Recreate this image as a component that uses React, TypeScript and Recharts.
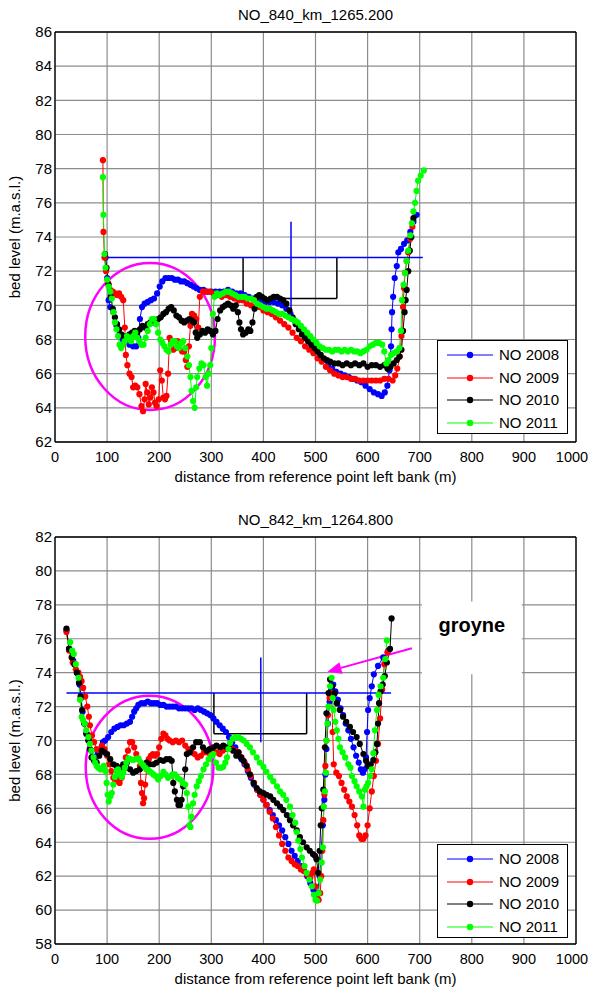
import React from 'react';
import {
  ComposedChart,
  Line,
  XAxis,
  YAxis,
  CartesianGrid,
  ReferenceLine,
  ReferenceArea,
  Legend,
} from 'recharts';

const FONT = '"Liberation Sans", Arial, sans-serif';

const xTicks = [0, 100, 200, 300, 400, 500, 600, 700, 800, 900, 1000];
const yTicksTop = [62, 64, 66, 68, 70, 72, 74, 76, 78, 80, 82, 84, 86];
const yTicksBottom = [58, 60, 62, 64, 66, 68, 70, 72, 74, 76, 78, 80, 82];

const seriesNames = ['NO 2008', 'NO 2009', 'NO 2010', 'NO 2011'];
const seriesColors = ['#0000ff', '#ff0000', '#000000', '#00ff00'];

const titleTop = 'NO_840_km_1265.200';
const titleBottom = 'NO_842_km_1264.800';
const xLabel = 'distance from reference point left bank (m)';
const yLabel = 'bed level (m.a.s.l.)';

type Pt = [number, number];

// ---- NO_840 (top panel) ----
const top2008: Pt[] = [
  [97, 72.8], [100, 71.6], [103, 70.3], [106, 69.9], [112, 69.6], [118, 68.8], [124, 68.3], [130, 68.0],
  [137, 67.9], [143, 67.7], [150, 67.6], [156, 67.6], [160, 68.1], [163, 69.2], [167, 69.9], [172, 70.1],
  [178, 70.2], [184, 70.3], [190, 70.4], [196, 70.7], [201, 71.1], [206, 71.4], [212, 71.6], [218, 71.6],
  [224, 71.6], [230, 71.5], [236, 71.5], [242, 71.4], [248, 71.4], [254, 71.3], [260, 71.2], [266, 71.1],
  [272, 71.0], [278, 70.9], [285, 70.9], [292, 70.8], [300, 70.8], [308, 70.8], [316, 70.8], [324, 70.8],
  [332, 70.9], [340, 70.8], [348, 70.7], [356, 70.7], [364, 70.6], [372, 70.5], [380, 70.4], [388, 70.4],
  [396, 70.3], [404, 70.2], [412, 70.2], [420, 70.2], [428, 70.1], [436, 70.0], [444, 69.8], [452, 69.5],
  [460, 69.1], [468, 68.8], [476, 68.4], [484, 68.0], [492, 67.7], [500, 67.4], [508, 67.1], [516, 66.8],
  [524, 66.5], [532, 66.3], [540, 66.1], [548, 66.0], [556, 65.9], [564, 65.8], [572, 65.7], [580, 65.6],
  [588, 65.5], [596, 65.3], [604, 65.1], [612, 64.9], [620, 64.8], [627, 64.7], [633, 64.9], [638, 65.3],
  [642, 66.2], [645, 67.6], [646, 68.6], [647, 69.6], [649, 70.5], [652, 71.6], [656, 72.3], [659, 73.1],
  [664, 73.3], [670, 73.6], [676, 73.8], [682, 74.3], [688, 74.9], [694, 75.3],
];

const top2009: Pt[] = [
  [92, 78.5], [93, 74.3], [95, 72.8], [98, 72.0], [102, 71.3], [106, 70.9], [111, 70.8], [115, 70.7],
  [119, 70.6], [123, 70.7], [127, 70.5], [131, 70.3], [134, 68.7], [136, 67.1], [139, 66.5], [143, 66.0],
  [147, 65.8], [150, 65.2], [154, 65.3], [158, 65.2], [162, 64.8], [166, 64.1], [169, 63.8], [172, 64.5],
  [174, 65.4], [177, 64.9], [180, 64.2], [183, 64.6], [186, 65.2], [189, 64.9], [192, 64.3], [195, 64.1],
  [199, 64.5], [202, 66.2], [205, 65.6], [208, 64.6], [211, 64.5], [214, 64.7], [217, 66.0], [220, 68.1],
  [223, 67.9], [227, 67.4], [231, 67.5], [235, 67.9], [240, 67.8], [244, 67.3], [248, 67.3], [251, 66.8],
  [254, 66.4], [257, 67.6], [260, 68.8], [263, 69.5], [267, 69.4], [271, 69.2], [275, 68.7], [278, 70.5],
  [284, 70.8], [290, 70.8], [297, 70.8], [304, 70.7], [312, 70.6], [320, 70.5], [328, 70.6], [336, 70.5],
  [344, 70.4], [352, 70.3], [360, 70.3], [368, 70.1], [376, 70.0], [384, 69.9], [392, 69.9], [400, 69.7],
  [408, 69.6], [416, 69.5], [424, 69.3], [432, 69.1], [440, 68.9], [448, 68.7], [456, 68.4], [464, 68.1],
  [472, 67.9], [480, 67.6], [488, 67.4], [496, 67.2], [504, 66.9], [512, 66.7], [520, 66.4], [528, 66.2],
  [536, 66.0], [544, 65.9], [552, 65.8], [560, 65.8], [568, 65.7], [576, 65.7], [584, 65.6], [592, 65.6],
  [600, 65.6], [608, 65.6], [616, 65.6], [624, 65.6], [632, 65.7], [640, 65.7], [648, 65.6], [653, 65.9],
  [657, 66.3], [662, 67.0], [665, 68.2], [668, 69.9], [670, 71.0], [672, 71.9], [675, 72.6], [678, 73.1],
  [682, 73.9], [686, 74.6],
];

const top2010: Pt[] = [
  [96, 73.0], [99, 72.2], [103, 71.2], [107, 70.5], [111, 69.8], [115, 69.3], [119, 68.9], [123, 68.6],
  [127, 68.3], [131, 68.2], [135, 68.1], [139, 68.2], [143, 68.3], [148, 68.4], [153, 68.5], [158, 68.4],
  [163, 68.6], [168, 68.8], [173, 68.7], [178, 68.9], [183, 69.0], [188, 69.0], [193, 69.1], [198, 69.2],
  [203, 69.3], [208, 69.5], [213, 69.6], [218, 69.8], [223, 69.9], [228, 69.7], [233, 69.4], [238, 69.3],
  [243, 69.1], [248, 69.0], [253, 69.1], [258, 69.2], [263, 69.1], [267, 69.0], [270, 68.4], [273, 68.1],
  [278, 68.3], [283, 68.5], [288, 68.4], [293, 68.6], [298, 68.5], [303, 68.3], [308, 68.5], [312, 69.2],
  [317, 69.7], [322, 69.9], [327, 70.0], [332, 70.1], [337, 70.0], [342, 69.8], [347, 70.0], [351, 69.6],
  [354, 69.0], [357, 68.6], [361, 68.3], [366, 68.4], [371, 68.6], [375, 68.5], [379, 69.0], [383, 69.8],
  [387, 70.5], [392, 70.6], [397, 70.5], [402, 70.4], [408, 70.3], [414, 70.4], [420, 70.5], [426, 70.5],
  [432, 70.4], [438, 70.3], [444, 70.1], [450, 69.7], [456, 69.3], [462, 68.9], [468, 68.6], [474, 68.3],
  [480, 68.1], [486, 67.9], [492, 67.7], [498, 67.5], [504, 67.3], [510, 67.1], [516, 66.9], [522, 66.8],
  [528, 66.7], [536, 66.6], [544, 66.6], [552, 66.5], [560, 66.6], [568, 66.5], [576, 66.6], [584, 66.5],
  [592, 66.6], [600, 66.4], [608, 66.5], [616, 66.5], [624, 66.4], [632, 66.5], [638, 66.3], [644, 66.4],
  [650, 66.6], [656, 66.8], [661, 67.0], [665, 67.4], [668, 68.5], [671, 69.6], [673, 70.3], [675, 70.9],
  [678, 72.0], [681, 73.2], [684, 74.0], [688, 75.1],
];

const top2011: Pt[] = [
  [92, 77.5], [93, 75.3], [95, 73.0], [97, 72.2], [100, 71.5], [103, 71.1], [106, 70.8], [109, 70.4],
  [112, 69.6], [115, 69.0], [118, 68.6], [121, 68.2], [124, 67.7], [127, 67.5], [130, 67.7], [134, 67.9],
  [138, 68.2], [142, 68.1], [146, 67.9], [150, 68.2], [154, 68.4], [158, 68.1], [162, 67.9], [166, 67.7],
  [170, 67.7], [174, 68.1], [178, 68.5], [182, 68.9], [186, 69.2], [190, 69.2], [194, 68.9], [198, 68.4],
  [202, 68.0], [206, 67.8], [210, 67.6], [214, 67.4], [218, 67.3], [222, 67.7], [226, 67.9], [230, 67.9],
  [234, 67.6], [238, 67.5], [242, 67.8], [246, 67.9], [250, 67.5], [254, 67.0], [257, 66.5], [260, 65.8],
  [262, 65.0], [265, 64.4], [268, 64.0], [271, 65.2], [273, 65.8], [277, 66.3], [281, 66.6], [285, 66.5],
  [289, 65.8], [292, 65.3], [295, 66.0], [298, 66.5], [300, 67.5], [303, 69.5], [306, 70.5], [311, 70.7],
  [316, 70.6], [322, 70.7], [328, 70.8], [334, 70.8], [340, 70.7], [346, 70.6], [352, 70.5], [358, 70.5],
  [364, 70.5], [370, 70.4], [376, 70.4], [382, 70.3], [388, 70.1], [394, 70.0], [400, 69.9], [406, 69.8],
  [412, 69.8], [418, 69.7], [424, 69.6], [430, 69.5], [436, 69.5], [442, 69.4], [448, 69.3], [454, 69.2],
  [460, 69.1], [466, 69.0], [472, 68.8], [478, 68.6], [484, 68.4], [490, 68.2], [496, 68.0], [502, 67.8],
  [508, 67.6], [514, 67.5], [520, 67.4], [526, 67.4], [532, 67.3], [538, 67.4], [544, 67.4], [550, 67.3],
  [556, 67.4], [562, 67.3], [568, 67.4], [574, 67.3], [580, 67.3], [586, 67.2], [592, 67.3], [598, 67.4],
  [604, 67.6], [610, 67.7], [616, 67.8], [622, 67.8], [628, 67.7], [632, 67.3], [636, 66.6], [640, 66.8],
  [645, 67.1], [650, 67.2], [656, 67.3], [661, 67.5], [664, 68.5], [666, 70.3], [669, 71.2], [672, 71.9],
  [675, 72.6], [678, 73.2], [682, 74.1], [685, 74.8], [688, 75.5], [691, 76.0], [694, 76.7], [697, 77.3],
  [702, 77.6], [708, 77.9],
];

// ---- NO_842 (bottom panel) ----
const bot2008: Pt[] = [
  [22, 76.5], [27, 75.4], [35, 74.7], [42, 74.0], [47, 73.3], [50, 72.5], [53, 71.7], [57, 71.0],
  [61, 70.4], [65, 70.0], [70, 69.4], [76, 69.0], [82, 69.2], [88, 69.5], [92, 69.9], [96, 70.0],
  [102, 70.2], [108, 70.5], [114, 70.7], [120, 70.8], [126, 70.9], [132, 70.9], [138, 71.0], [144, 71.1],
  [148, 71.4], [152, 71.7], [156, 71.9], [160, 72.1], [166, 72.2], [172, 72.2], [178, 72.3], [184, 72.2],
  [190, 72.2], [196, 72.2], [202, 72.1], [208, 72.1], [214, 72.0], [220, 72.0], [226, 72.0], [232, 72.0],
  [238, 71.9], [244, 71.9], [250, 71.9], [256, 71.9], [262, 71.9], [268, 71.8], [274, 71.9], [280, 71.8],
  [286, 71.7], [292, 71.6], [298, 71.5], [304, 71.3], [310, 71.1], [316, 70.9], [322, 70.7], [328, 70.5],
  [334, 70.2], [340, 69.9], [346, 69.6], [352, 69.3], [358, 68.9], [364, 68.6], [370, 68.2], [376, 67.8],
  [382, 67.4], [388, 67.1], [394, 66.8], [400, 66.5], [406, 66.2], [412, 65.9], [418, 65.6], [424, 65.3],
  [430, 65.0], [436, 64.7], [442, 64.3], [448, 63.9], [454, 63.5], [460, 63.2], [466, 62.9], [472, 62.6],
  [478, 62.3], [484, 62.0], [490, 61.6], [496, 61.2], [500, 60.9], [504, 61.0], [508, 62.0], [511, 63.5],
  [514, 65.0], [517, 66.5], [519, 68.0], [521, 69.5], [524, 71.0], [527, 72.3], [530, 73.0], [534, 73.3],
  [538, 72.9], [543, 72.4], [548, 71.9], [553, 71.5], [558, 71.0], [563, 70.6], [568, 70.1], [573, 69.6],
  [578, 69.1], [583, 68.7], [587, 68.3], [591, 68.1], [594, 68.3], [597, 69.0], [599, 70.5], [601, 71.8],
  [604, 72.5], [608, 73.2], [612, 73.9], [620, 74.4], [630, 74.9], [640, 75.3],
];

const bot2009: Pt[] = [
  [22, 76.4], [27, 75.3], [34, 74.6], [40, 74.2], [45, 74.0], [48, 73.75], [51, 73.5], [54, 73.1],
  [58, 72.6], [62, 72.0], [65, 71.4], [67, 70.9], [71, 70.3], [75, 69.9], [80, 69.5], [85, 69.4],
  [90, 69.7], [95, 69.5], [100, 69.1], [104, 68.6], [108, 68.2], [112, 67.8], [116, 67.6], [120, 67.7],
  [124, 67.5], [128, 67.8], [132, 68.3], [136, 69.0], [140, 69.4], [144, 69.9], [148, 69.9], [152, 69.6],
  [156, 69.2], [160, 68.9], [163, 68.5], [165, 67.5], [167, 66.9], [169, 66.3], [171, 66.6], [173, 67.4],
  [176, 68.3], [180, 68.9], [184, 69.1], [188, 69.2], [192, 69.1], [196, 69.2], [200, 69.6], [204, 70.1],
  [208, 70.4], [212, 70.3], [216, 70.1], [220, 70.0], [226, 69.9], [232, 70.0], [238, 69.9], [244, 70.0],
  [250, 69.7], [256, 69.5], [262, 69.3], [268, 69.2], [274, 69.0], [280, 69.1], [286, 69.3], [292, 69.3],
  [298, 69.2], [304, 69.3], [310, 69.3], [316, 69.2], [322, 69.4], [328, 69.5], [334, 69.6], [340, 69.5],
  [346, 69.4], [352, 69.3], [358, 69.0], [364, 68.7], [370, 68.3], [376, 67.9], [382, 67.5], [388, 67.1],
  [394, 66.8], [400, 66.5], [406, 66.2], [412, 65.8], [418, 65.4], [424, 64.9], [430, 64.4], [436, 63.9],
  [442, 63.5], [448, 63.1], [454, 62.9], [460, 62.7], [466, 62.6], [472, 62.4], [478, 62.3], [484, 62.1],
  [490, 61.9], [494, 62.2], [497, 62.4], [500, 61.4], [503, 60.8], [506, 60.6], [509, 61.0], [511, 62.0],
  [513, 63.5], [515, 65.3], [517, 66.8], [519, 68.5], [521, 70.0], [524, 71.5], [527, 72.5], [531, 72.8],
  [533, 70.5], [535, 68.6], [540, 68.1], [545, 67.9], [550, 67.5], [555, 67.1], [560, 66.7], [565, 66.4],
  [570, 66.1], [575, 65.6], [580, 65.0], [584, 64.4], [588, 64.2], [592, 64.2], [596, 64.4], [600, 65.0],
  [604, 66.0], [608, 67.0], [612, 67.9], [616, 68.8], [620, 69.8], [624, 71.3], [628, 73.0], [632, 74.5],
  [638, 75.2],
];

const bot2010: Pt[] = [
  [22, 76.6], [27, 75.4], [32, 74.9], [37, 74.5], [42, 74.0], [46, 73.4], [49, 72.6], [52, 71.8],
  [56, 71.0], [60, 70.4], [64, 70.0], [67, 69.5], [70, 69.0], [75, 68.8], [80, 68.7], [85, 69.1],
  [90, 69.4], [95, 69.3], [100, 69.2], [106, 68.9], [112, 68.6], [118, 68.5], [125, 68.4], [131, 68.6],
  [138, 68.7], [144, 68.3], [150, 68.1], [156, 68.2], [163, 68.3], [169, 68.5], [176, 68.7], [182, 68.6],
  [189, 68.6], [195, 68.7], [202, 68.85], [208, 68.8], [214, 68.9], [220, 68.9], [224, 68.8], [227, 67.5],
  [230, 67.0], [234, 66.5], [237, 66.2], [240, 66.2], [243, 66.5], [246, 67.3], [250, 68.3], [253, 69.2],
  [259, 69.3], [265, 69.6], [271, 69.9], [278, 69.9], [284, 69.6], [291, 69.4], [297, 69.5], [304, 69.6],
  [310, 69.7], [317, 69.6], [323, 69.7], [330, 69.6], [336, 69.8], [342, 69.4], [348, 69.1], [352, 69.3],
  [357, 69.0], [362, 68.8], [368, 68.5], [374, 68.0], [381, 67.5], [387, 67.2], [393, 67.0], [400, 66.9],
  [406, 66.8], [413, 66.7], [419, 66.5], [426, 66.3], [432, 66.1], [438, 65.9], [445, 65.6], [451, 65.3],
  [457, 65.0], [464, 64.7], [470, 64.3], [476, 64.0], [483, 63.7], [489, 63.5], [495, 63.3], [499, 63.2],
  [502, 63.0], [505, 62.2], [508, 63.5], [510, 65.0], [512, 66.0], [515, 67.1], [518, 69.6], [521, 71.6],
  [525, 72.8], [528, 73.6], [532, 73.2], [537, 72.8], [541, 72.2], [547, 71.8], [553, 71.4], [559, 71.1],
  [566, 70.8], [572, 70.5], [579, 70.2], [585, 69.8], [592, 69.2], [597, 68.8], [601, 68.5], [606, 68.6],
  [611, 68.85], [615, 69.3], [618, 69.8], [620, 71.0], [622, 72.2], [625, 72.9], [629, 73.3], [633, 73.8],
  [637, 74.6], [643, 75.4], [646, 77.2],
];

const bot2011: Pt[] = [
  [29, 75.8], [33, 75.3], [36, 75.1], [40, 74.5], [45, 73.7], [48, 72.4], [51, 71.4], [54, 71.2],
  [57, 71.0], [60, 70.6], [64, 70.2], [67, 69.8], [70, 69.4], [74, 69.0], [77, 68.7], [80, 68.5],
  [83, 68.4], [87, 68.3], [90, 68.3], [94, 68.5], [97, 68.2], [99, 67.5], [101, 66.8], [103, 66.4],
  [106, 66.7], [109, 66.9], [112, 67.4], [115, 67.85], [118, 68.2], [121, 68.3], [125, 68.0], [128, 67.85],
  [131, 68.1], [134, 68.4], [137, 68.7], [141, 68.95], [145, 68.9], [150, 68.85], [155, 68.9], [160, 68.95],
  [165, 68.7], [169, 68.55], [173, 68.4], [177, 68.3], [181, 68.2], [185, 68.1], [189, 68.0], [193, 67.9],
  [198, 67.7], [203, 67.9], [208, 68.15], [212, 68.0], [217, 67.8], [222, 67.9], [226, 68.0], [230, 68.0],
  [235, 67.8], [240, 67.7], [245, 67.5], [250, 67.4], [253, 66.9], [256, 66.1], [258, 65.0], [260, 64.9],
  [262, 65.5], [265, 66.3], [268, 66.8], [272, 67.3], [276, 67.6], [280, 67.9], [285, 68.3], [290, 68.6],
  [295, 68.9], [300, 69.1], [304, 69.2], [309, 68.7], [314, 68.4], [319, 68.4], [323, 68.45], [327, 68.7],
  [330, 69.0], [333, 69.5], [336, 69.85], [341, 70.1], [346, 70.2], [352, 70.2], [357, 70.1], [362, 70.0],
  [368, 69.8], [374, 69.6], [380, 69.3], [387, 69.0], [393, 68.7], [400, 68.45], [406, 68.15], [413, 67.85],
  [419, 67.6], [426, 67.3], [432, 67.0], [438, 66.8], [444, 66.5], [451, 66.1], [456, 65.6], [461, 65.15],
  [464, 64.6], [467, 64.1], [471, 63.6], [474, 63.1], [479, 62.6], [483, 62.2], [488, 61.8], [493, 61.4],
  [497, 60.9], [500, 60.6], [503, 60.55], [506, 61.0], [509, 61.8], [512, 62.8], [514, 63.7], [516, 66.1],
  [518, 67.0], [520, 68.1], [521, 70.0], [523, 71.0], [525, 72.0], [528, 73.2], [531, 73.7], [533, 72.5],
  [535, 71.8], [538, 71.1], [541, 70.6], [544, 70.1], [547, 69.6], [552, 69.3], [557, 69.0], [563, 68.6],
  [567, 68.4], [570, 67.9], [575, 67.6], [579, 67.3], [584, 67.0], [589, 66.7], [592, 66.1], [595, 67.1],
  [598, 67.3], [601, 67.5], [605, 67.9], [608, 68.3], [611, 69.25], [614, 70.6], [618, 71.8], [621, 72.7],
  [625, 73.2], [630, 73.7], [634, 74.8], [637, 75.9],
];

function LegendBox({ payload }: any) {
  return (
    <div
      style={{
        width: 131,
        height: 94,
        boxSizing: 'border-box',
        border: '1.5px solid #000',
        background: '#fff',
        paddingTop: 3,
        fontFamily: FONT,
        fontSize: 15,
        color: '#000',
      }}
    >
      {(payload || []).map((entry: any) => (
        <div key={entry.value} style={{ display: 'flex', alignItems: 'center', height: 22.5 }}>
          <svg width={61} height={22} style={{ flex: 'none' }}>
            <line x1={9} x2={55} y1={11} y2={11} stroke={entry.color} strokeWidth={1} />
            <circle cx={32} cy={11} r={3.2} fill={entry.color} />
          </svg>
          <span style={{ lineHeight: '22px' }}>{entry.value}</span>
        </div>
      ))}
    </div>
  );
}

// x tick labels; the last one is nudged left so it stays inside the page
function XTick({ x, y, payload }: any) {
  const v = payload.value;
  const dx = v === 1000 ? -3 : 0;
  return (
    <text x={x + dx} y={y} dy="0.71em" textAnchor="middle" fontSize={14.5} fill="#000" fontFamily={FONT}>
      {v}
    </text>
  );
}

const ellipseShape = (p: any) => (
  <ellipse
    cx={p.x + p.width / 2}
    cy={p.y + p.height / 2}
    rx={p.width / 2}
    ry={p.height / 2}
    fill="none"
    stroke="#ff00ff"
    strokeWidth={2.5}
  />
);

const arrowShape = (p: any) => {
  const { x1, y1, x2, y2 } = p;
  const a = Math.atan2(y2 - y1, x2 - x1);
  const len = 14;
  const half = 6;
  const bx = x2 - len * Math.cos(a);
  const by = y2 - len * Math.sin(a);
  const px = -Math.sin(a) * half;
  const py = Math.cos(a) * half;
  return (
    <g>
      <line x1={x1} y1={y1} x2={bx} y2={by} stroke="#ff00ff" strokeWidth={2} />
      <polygon points={`${x2},${y2} ${bx + px},${by + py} ${bx - px},${by - py}`} fill="#ff00ff" />
    </g>
  );
};

interface PanelProps {
  title: string;
  series: Pt[][];
  yDomain: [number, number];
  yTicks: number[];
  marginTop: number;
  marginBottom: number;
  water: { y: number; x1: number; x2: number };
  gauge: { x: number; y1: number; y2: number };
  box: { x1: number; x2: number; y1: number; y2: number };
  ring: { x1: number; x2: number; y1: number; y2: number };
  legendTop: number;
  groyne?: boolean;
}

function Panel(props: PanelProps) {
  const { title, series, yDomain, yTicks, marginTop, marginBottom, water, gauge, box, ring, legendTop, groyne } =
    props;
  const tickStyle = { fontSize: 15, fill: '#000', fontFamily: FONT };
  return (
    <ComposedChart
      width={591}
      height={494}
      margin={{ top: marginTop, right: 15, bottom: marginBottom, left: 0 }}
      style={{ fontFamily: FONT }}
    >
      <CartesianGrid stroke="#8c8c8c" strokeWidth={1.2} />
      {groyne && (
        <ReferenceArea
          x1={704}
          x2={896}
          y1={73.9}
          y2={78.2}
          fill="#fff"
          fillOpacity={1}
          stroke="none"
          label={{
            value: 'groyne',
            position: 'insideTop',
            offset: 16,
            fontSize: 20,
            fontWeight: 'bold',
            fill: '#000',
            fontFamily: FONT,
          }}
        />
      )}
      {series.map((pts, i) => (
        <Line
          key={seriesNames[i]}
          data={pts.map(([x, y]) => ({ x, y }))}
          dataKey="y"
          name={seriesNames[i]}
          type="linear"
          stroke={seriesColors[i]}
          strokeWidth={1}
          dot={{ r: 3.1, fill: seriesColors[i], stroke: seriesColors[i], strokeWidth: 0 }}
          activeDot={false}
          isAnimationActive={false}
        />
      ))}
      <ReferenceLine
        segment={[
          { x: box.x1, y: box.y2 },
          { x: box.x1, y: box.y1 },
        ]}
        stroke="#000"
        strokeWidth={1.5}
      />
      <ReferenceLine
        segment={[
          { x: box.x1, y: box.y1 },
          { x: box.x2, y: box.y1 },
        ]}
        stroke="#000"
        strokeWidth={1.5}
      />
      <ReferenceLine
        segment={[
          { x: box.x2, y: box.y1 },
          { x: box.x2, y: box.y2 },
        ]}
        stroke="#000"
        strokeWidth={1.5}
      />
      <ReferenceLine
        segment={[
          { x: water.x1, y: water.y },
          { x: water.x2, y: water.y },
        ]}
        stroke="#0000ff"
        strokeWidth={1.5}
      />
      <ReferenceLine
        segment={[
          { x: gauge.x, y: gauge.y1 },
          { x: gauge.x, y: gauge.y2 },
        ]}
        stroke="#0000ff"
        strokeWidth={1.5}
      />
      <ReferenceArea x1={ring.x1} x2={ring.x2} y1={ring.y1} y2={ring.y2} shape={ellipseShape} />
      {groyne && (
        <ReferenceLine
          segment={[
            { x: 685, y: 75.44 },
            { x: 523, y: 74.06 },
          ]}
          shape={arrowShape}
        />
      )}
      <XAxis
        dataKey="x"
        type="number"
        domain={[0, 1000]}
        ticks={xTicks}
        allowDataOverflow
        height={42}
        tickLine={false}
        tickSize={8}
        tickMargin={2}
        tick={<XTick />}
        axisLine={{ stroke: '#000', strokeWidth: 1.3 }}
        label={{ value: xLabel, position: 'insideBottom', offset: 2, fontSize: 15, fill: '#000', fontFamily: FONT }}
      />
      <XAxis
        xAxisId="bm"
        type="number"
        domain={[0, 1000]}
        ticks={xTicks}
        orientation="bottom"
        mirror
        tick={false}
        tickSize={5}
        tickLine={{ stroke: '#000' }}
        axisLine={false}
      />
      <XAxis
        xAxisId="top"
        type="number"
        domain={[0, 1000]}
        ticks={xTicks}
        orientation="top"
        mirror
        tick={false}
        tickSize={5}
        tickLine={{ stroke: '#000' }}
        axisLine={{ stroke: '#000', strokeWidth: 1.3 }}
        label={{ value: title, position: 'top', offset: 12, fontSize: 15, fill: '#000', fontFamily: FONT }}
      />
      <YAxis
        type="number"
        domain={yDomain}
        ticks={yTicks}
        allowDataOverflow
        width={55}
        tickLine={false}
        tickSize={1}
        tickMargin={2}
        tick={tickStyle}
        axisLine={{ stroke: '#000', strokeWidth: 1.3 }}
        label={{
          value: yLabel,
          angle: -90,
          position: 'insideLeft',
          offset: 15,
          fontSize: 15,
          fill: '#000',
          fontFamily: FONT,
          style: { textAnchor: 'middle' },
        }}
      />
      <YAxis
        yAxisId="lm"
        type="number"
        domain={yDomain}
        ticks={yTicks}
        orientation="left"
        mirror
        tick={false}
        tickSize={5}
        tickLine={{ stroke: '#000' }}
        axisLine={false}
      />
      <YAxis
        yAxisId="right"
        type="number"
        domain={yDomain}
        ticks={yTicks}
        orientation="right"
        mirror
        tick={false}
        tickSize={5}
        tickLine={{ stroke: '#000' }}
        axisLine={{ stroke: '#000', strokeWidth: 1.3 }}
      />
      <Legend
        content={<LegendBox />}
        layout="vertical"
        align="center"
        verticalAlign="middle"
        wrapperStyle={{ left: 437, top: legendTop, width: 131, height: 94 }}
      />
    </ComposedChart>
  );
}

export default function App() {
  return (
    <div style={{ position: 'absolute', left: 0, top: 0, width: 591, height: 988, background: '#fff' }}>
      <div style={{ position: 'absolute', left: 0, top: 0 }}>
        <Panel
          title={titleTop}
          series={[top2008, top2009, top2010, top2011]}
          yDomain={[62, 86]}
          yTicks={yTicksTop}
          marginTop={32}
          marginBottom={10}
          water={{ y: 72.8, x1: 97, x2: 706 }}
          gauge={{ x: 453, y1: 74.9, y2: 69.7 }}
          box={{ x1: 361, x2: 541, y1: 70.4, y2: 72.8 }}
          ring={{ x1: 58, x2: 307, y1: 63.87, y2: 72.48 }}
          legendTop={340}
        />
      </div>
      <div style={{ position: 'absolute', left: 0, top: 494 }}>
        <Panel
          title={titleBottom}
          series={[bot2008, bot2009, bot2010, bot2011]}
          yDomain={[58, 82]}
          yTicks={yTicksBottom}
          marginTop={43}
          marginBottom={2}
          water={{ y: 72.8, x1: 22, x2: 645 }}
          gauge={{ x: 395, y1: 74.9, y2: 69.9 }}
          box={{ x1: 305, x2: 483, y1: 70.4, y2: 72.8 }}
          ring={{ x1: 59, x2: 304, y1: 64.2, y2: 72.64 }}
          legendTop={350}
          groyne
        />
      </div>
    </div>
  );
}
